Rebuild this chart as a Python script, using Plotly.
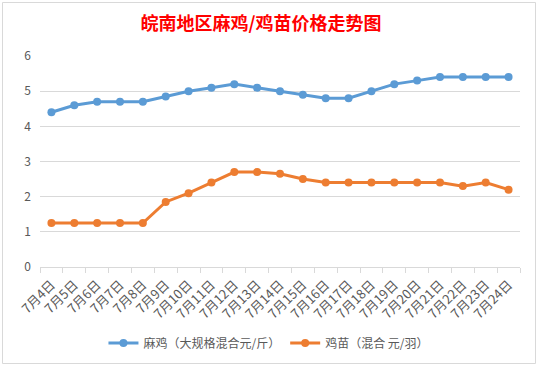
import plotly.graph_objects as go

dates = ["7月4日", "7月5日", "7月6日", "7月7日", "7月8日", "7月9日", "7月10日",
         "7月11日", "7月12日", "7月13日", "7月14日", "7月15日", "7月16日", "7月17日",
         "7月18日", "7月19日", "7月20日", "7月21日", "7月22日", "7月23日", "7月24日"]
maji = [4.4, 4.6, 4.7, 4.7, 4.7, 4.85, 5.0, 5.1, 5.2, 5.1, 5.0, 4.9, 4.8, 4.8,
        5.0, 5.2, 5.3, 5.4, 5.4, 5.4, 5.4]
jimiao = [1.25, 1.25, 1.25, 1.25, 1.25, 1.85, 2.1, 2.4, 2.7, 2.7, 2.65, 2.5, 2.4, 2.4,
          2.4, 2.4, 2.4, 2.4, 2.3, 2.4, 2.2]
series_names = ["麻鸡（大规格混合元/斤）", "鸡苗（混合 元/羽）"]
colors = ["#5B9BD5", "#ED7D31"]

FONT = "Noto Sans CJK SC"
W, H = 538, 367

fig = go.Figure()
for name, vals, c in zip(series_names, [maji, jimiao], colors):
    fig.add_trace(go.Scatter(
        x=dates, y=vals, name=name, mode="lines+markers",
        line=dict(color=c, width=3),
        marker=dict(color=c, size=8, symbol="circle"),
    ))

fig.update_layout(
    width=W, height=H,
    margin=dict(l=40, r=18, t=56, b=100, autoexpand=False),
    paper_bgcolor="white", plot_bgcolor="white",
    font=dict(family=FONT, color="#595959", size=12),
    title=dict(text="<b>皖南地区麻鸡/鸡苗价格走势图</b>",
               font=dict(family=FONT, size=18, color="#FF0000"),
               xref="container", yref="container",
               x=261 / W, xanchor="center", y=1 - 24 / H, yanchor="middle",
               automargin=False),
    showlegend=True,
    legend=dict(orientation="h", x=0.477, xanchor="center", y=-0.36, yanchor="middle",
                font=dict(family=FONT, size=12, color="#595959"),
                itemwidth=30, bgcolor="rgba(0,0,0,0)"),
    xaxis=dict(type="category", showgrid=False, showline=True, linecolor="#d9d9d9",
               linewidth=1, ticks="outside", tickson="boundaries", ticklen=5,
               tickcolor="#d9d9d9", tickangle=-45, automargin=False,
               ticklabelstandoff=4,
               tickfont=dict(family=FONT, size=13, color="#595959"),
               range=[-0.5, len(dates) - 0.5], fixedrange=True),
    yaxis=dict(range=[0, 6], dtick=1, showgrid=True, gridcolor="#d9d9d9", gridwidth=1,
               zeroline=False, showline=False, ticks="", ticklabelstandoff=8,
               automargin=False,
               tickfont=dict(family=FONT, size=12, color="#595959"), fixedrange=True),
    shapes=[dict(type="rect", xref="paper", yref="paper",
                 x0=(2.5 - 40) / 480, x1=(535.5 - 40) / 480,
                 y0=(267 - 363.5) / 211, y1=(267 - 2.5) / 211,
                 line=dict(color="#d9d9d9", width=1), layer="below")],
)

fig.write_html("out.html", config={"displayModeBar": False},
               post_script="document.body.style.margin='0';document.body.style.overflow='hidden';")
